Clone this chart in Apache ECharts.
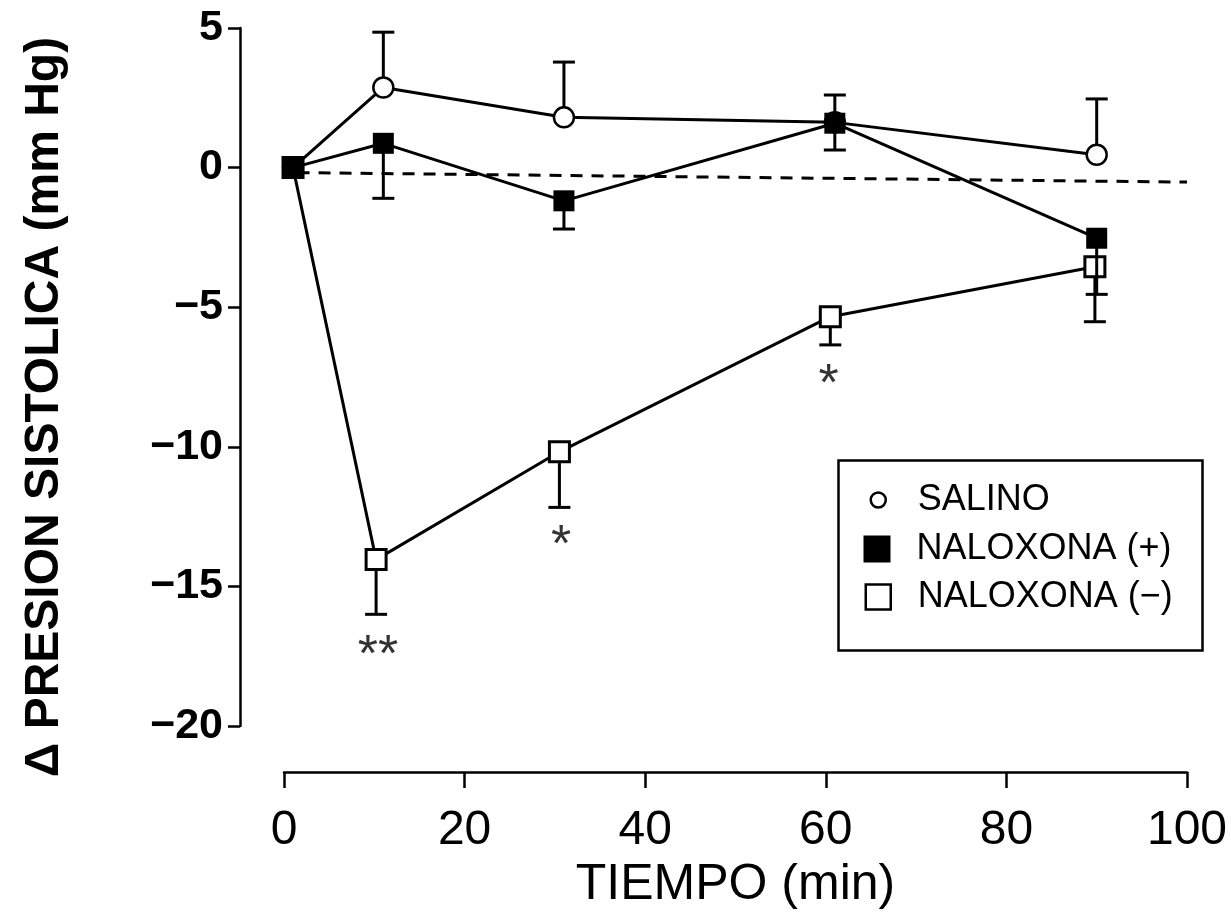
<!DOCTYPE html>
<html><head><meta charset="utf-8">
<script src="https://cdn.jsdelivr.net/npm/echarts@6/dist/echarts.min.js"></script>
<style>html,body{margin:0;padding:0;background:#fff}#c{width:1231px;height:922px}</style>
</head><body><div id="c"></div>
<script>
// ---- data ----
const Y_MIN = -20, Y_MAX = 5, Y_STEP = 5;
const X_MIN = 0, X_MAX = 100, X_STEP = 20;
const SALINO_X = [1, 11, 31, 61, 90];
const SALINO_Y = [0, 2.87, 1.8, 1.62, 0.46];
const SALINO_ERR_HI = [null, 4.85, 3.78, null, 2.46];
const NALP_X = [1, 11, 31, 61, 90];
const NALP_Y = [0, 0.87, -1.19, 1.59, -2.53];
const NALP_ERR_LO = [null, -1.1, -2.2, 0.63, -4.54];
const NALP_ERR_HI = [null, null, null, 2.6, null];
const NALM_X = [1, 10.2, 30.5, 60.5, 89.8];
const NALM_Y = [0, -14.04, -10.18, -5.34, -3.55];
const NALM_ERR_LO = [null, -16.0, -12.17, -6.35, -5.52];
const REF_X = [1.5, 100];
const REF_Y = [-0.18, -0.52];
const SIG_X = [10.4, 30.7, 60.3];
const SIG_Y = [-17.1, -13.16, -7.37];
const SIG_TEXT = ['**', '*', '*'];
const NAMES = ['SALINO', 'NALOXONA (+)', 'NALOXONA (\u2212)'];

const FONT = 'Liberation Sans, Arial, sans-serif';

function pts(xs, ys) { return xs.map((x, i) => [x, ys[i]]); }
function errs(xs, ys, ends) {
  const out = [];
  xs.forEach((x, i) => { if (ends[i] != null) out.push([x, ys[i], ends[i]]); });
  return out;
}
function errRender(params, api) {
  const x = api.value(0), y0 = api.value(1), y1 = api.value(2);
  const p0 = api.coord([x, y0]), p1 = api.coord([x, y1]);
  const hw = 11;
  const st = { stroke: '#000', lineWidth: 3 };
  return { type: 'group', children: [
    { type: 'line', shape: { x1: p0[0], y1: p0[1], x2: p1[0], y2: p1[1] }, style: st },
    { type: 'line', shape: { x1: p1[0] - hw, y1: p1[1], x2: p1[0] + hw, y2: p1[1] }, style: st }
  ]};
}
function errSeries(data, z) {
  return { type: 'custom', renderItem: errRender, data: data, z: z,
    encode: { x: 0, y: [1, 2] }, silent: true };
}
const minus = v => String(v).replace('-', '\u2212');

const chart = echarts.init(document.getElementById('c'), null, { renderer: 'canvas' });
const sigData = SIG_X.map((x, i) => [x, SIG_Y[i], SIG_TEXT[i]]);

chart.setOption({
  backgroundColor: '#fff',
  animation: false,
  grid: { left: 284, right: 44, top: 28, bottom: 196 },
  xAxis: {
    type: 'value', min: X_MIN, max: X_MAX, interval: X_STEP, offset: 46,
    name: 'TIEMPO (min)', nameLocation: 'middle', nameGap: 88,
    nameTextStyle: { fontFamily: FONT, fontSize: 50, color: '#000' },
    axisLine: { show: true, onZero: false, lineStyle: { color: '#000', width: 2.5 } },
    axisTick: { show: true, length: 16, lineStyle: { color: '#000', width: 2.5 } },
    axisLabel: { fontFamily: FONT, fontSize: 48, color: '#000', margin: 35 },
    splitLine: { show: false }
  },
  yAxis: {
    type: 'value', min: Y_MIN, max: Y_MAX, interval: Y_STEP, offset: 44,
    name: '\u0394 PRESION SISTOLICA (mm Hg)', nameLocation: 'middle', nameGap: 171,
    nameTextStyle: { fontFamily: FONT, fontSize: 48, fontWeight: 'bold', color: '#000', padding: [0, 60, 0, 0] },
    axisLine: { show: true, onZero: false, lineStyle: { color: '#000', width: 2.5 } },
    axisTick: { show: true, length: 12, lineStyle: { color: '#000', width: 2.5 } },
    axisLabel: { fontFamily: FONT, fontSize: 43, fontWeight: 'bold', color: '#000', margin: 17, formatter: minus },
    splitLine: { show: false }
  },
  legend: [
    { data: [NAMES[0]], left: 869.5, top: 482, padding: 0, icon: 'circle', itemWidth: 15, itemHeight: 15,
      itemStyle: { color: '#fff', borderColor: '#000', borderWidth: 2.5 },
      textStyle: { fontFamily: FONT, fontSize: 36, color: '#000', lineHeight: 36, padding: [0, 0, 0, 27] } },
    { data: [NAMES[1]], left: 863.5, top: 531, padding: 0, icon: 'rect', itemWidth: 27, itemHeight: 27,
      itemStyle: { color: '#000', borderWidth: 0 },
      textStyle: { fontFamily: FONT, fontSize: 36, color: '#000', lineHeight: 36, padding: [0, 0, 0, 21] } },
    { data: [NAMES[2]], left: 864.5, top: 579, padding: 0, icon: 'rect', itemWidth: 25, itemHeight: 25,
      itemStyle: { color: '#fff', borderColor: '#000', borderWidth: 2.5 },
      textStyle: { fontFamily: FONT, fontSize: 36, color: '#000', lineHeight: 36, padding: [0, 0, 0, 22] } }
  ],
  graphic: [
    { type: 'rect', left: 836, top: 458, shape: { width: 364, height: 190 },
      style: { fill: 'none', stroke: '#000', lineWidth: 2.5 }, z: 0, silent: true }
  ],
  series: [
    { type: 'line', data: pts(REF_X, REF_Y), symbol: 'none', z: 1, silent: true,
      lineStyle: { color: '#000', width: 3, type: [12, 9] } },
    errSeries(errs(SALINO_X, SALINO_Y, SALINO_ERR_HI), 2),
    { name: NAMES[0], type: 'line', data: pts(SALINO_X, SALINO_Y), z: 3,
      symbol: 'circle', symbolSize: 20,
      lineStyle: { color: '#000', width: 3 },
      itemStyle: { color: '#fff', borderColor: '#000', borderWidth: 2.5 } },
    errSeries(errs(NALM_X, NALM_Y, NALM_ERR_LO), 4),
    { name: NAMES[2], type: 'line', data: pts(NALM_X, NALM_Y), z: 5,
      symbol: 'rect', symbolSize: 20,
      lineStyle: { color: '#000', width: 3 },
      itemStyle: { color: '#fff', borderColor: '#000', borderWidth: 3 } },
    errSeries(errs(NALP_X, NALP_Y, NALP_ERR_LO), 6),
    errSeries(errs(NALP_X, NALP_Y, NALP_ERR_HI), 6),
    { name: NAMES[1], type: 'line', data: pts(NALP_X, NALP_Y), z: 7,
      symbol: 'rect', symbolSize: 21,
      lineStyle: { color: '#000', width: 3 },
      itemStyle: { color: '#000', borderColor: '#000', borderWidth: 0 } },
    { type: 'scatter', data: sigData, symbolSize: 1, z: 8, silent: true,
      itemStyle: { color: 'rgba(0,0,0,0)' },
      label: { show: true, position: 'inside', formatter: p => p.value[2],
        fontFamily: FONT, fontSize: 52, color: '#000', offset: [0, 12] } }
  ]
});
</script></body></html>
